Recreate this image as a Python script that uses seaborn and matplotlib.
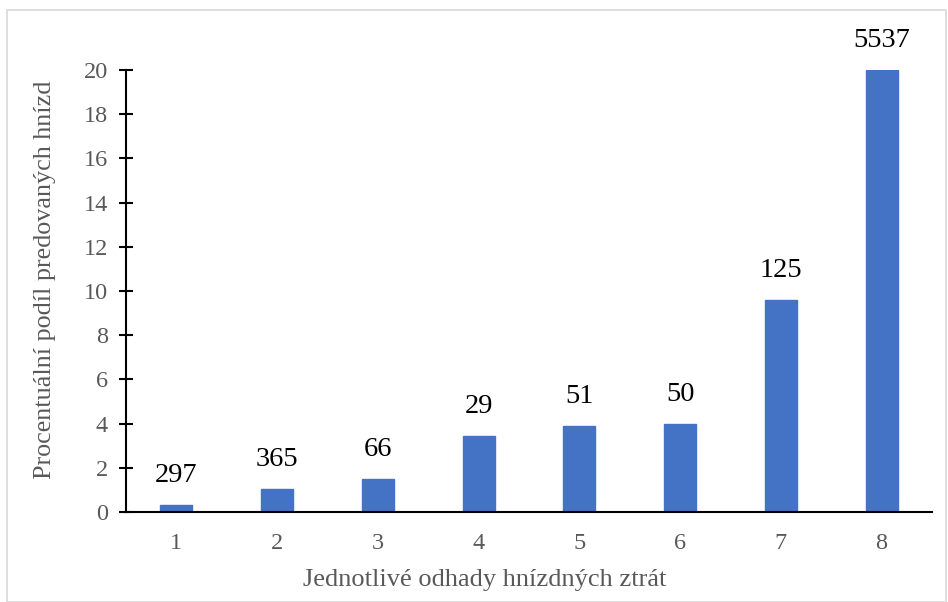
import matplotlib
matplotlib.use("Agg")
import matplotlib.pyplot as plt
import seaborn as sns
import pandas as pd
from matplotlib.patches import Rectangle

categories = ["1", "2", "3", "4", "5", "6", "7", "8"]
values = [0.32, 1.04, 1.49, 3.44, 3.89, 3.98, 9.59, 20.0]
labels = ["297", "365", "66", "29", "51", "50", "125", "5537"]
yticks = [0, 2, 4, 6, 8, 10, 12, 14, 16, 18, 20]

sns.set_theme(style="white")
plt.rcParams['font.family'] = ['Liberation Serif', 'DejaVu Serif']

df = pd.DataFrame({"cat": categories, "val": values})

fig = plt.figure(figsize=(9.48, 6.02), dpi=100)
ax = fig.add_axes([126/948, 1-512/602, (932-126)/948, (512-70)/602])
sns.barplot(data=df, x="cat", y="val", color="#4472C4", width=0.32, ax=ax,
            saturation=1, edgecolor="#4472C4")

for i, (v, lab) in enumerate(zip(values, labels)):
    ax.annotate(lab, (i, v), xytext=(0, 12), textcoords="offset points",
                ha="center", va="bottom", fontsize=20.5, color="black")

ax.set_ylim(0, 20)
ax.set_xlim(-0.5, 7.5)
ax.set_yticks(yticks)
ax.set_yticklabels([str(t) for t in yticks])
ax.tick_params(axis="y", which="major", left=True, direction="inout", length=10, width=1.5,
               colors="black", labelcolor="#595959", labelsize=17.5, pad=8)
ax.tick_params(axis="x", bottom=False, length=0, labelcolor="#595959", labelsize=17.5, pad=15)
for s in ["top", "right"]:
    ax.spines[s].set_visible(False)
ax.spines["left"].set_color("black")
ax.spines["left"].set_linewidth(1.5)
ax.spines["bottom"].set_color("black")
ax.spines["bottom"].set_linewidth(1.5)
ax.set_xlabel("Jednotlivé odhady hnízdných ztrát", fontsize=19, color="#595959")
ax.set_ylabel("Procentuální podíl predovaných hnízd", fontsize=18.8, color="#595959")
ax.xaxis.set_label_coords(0.445, -0.128)
ax.yaxis.set_label_coords(-0.087, 0.525)

fig.patches.append(Rectangle((7/948, 0), 1 - 7/948 - 2/948, 1 - 10/602, transform=fig.transFigure,
                             fill=False, edgecolor="#D9D9D9", linewidth=1.2))

fig.savefig("out.png", dpi=100)
